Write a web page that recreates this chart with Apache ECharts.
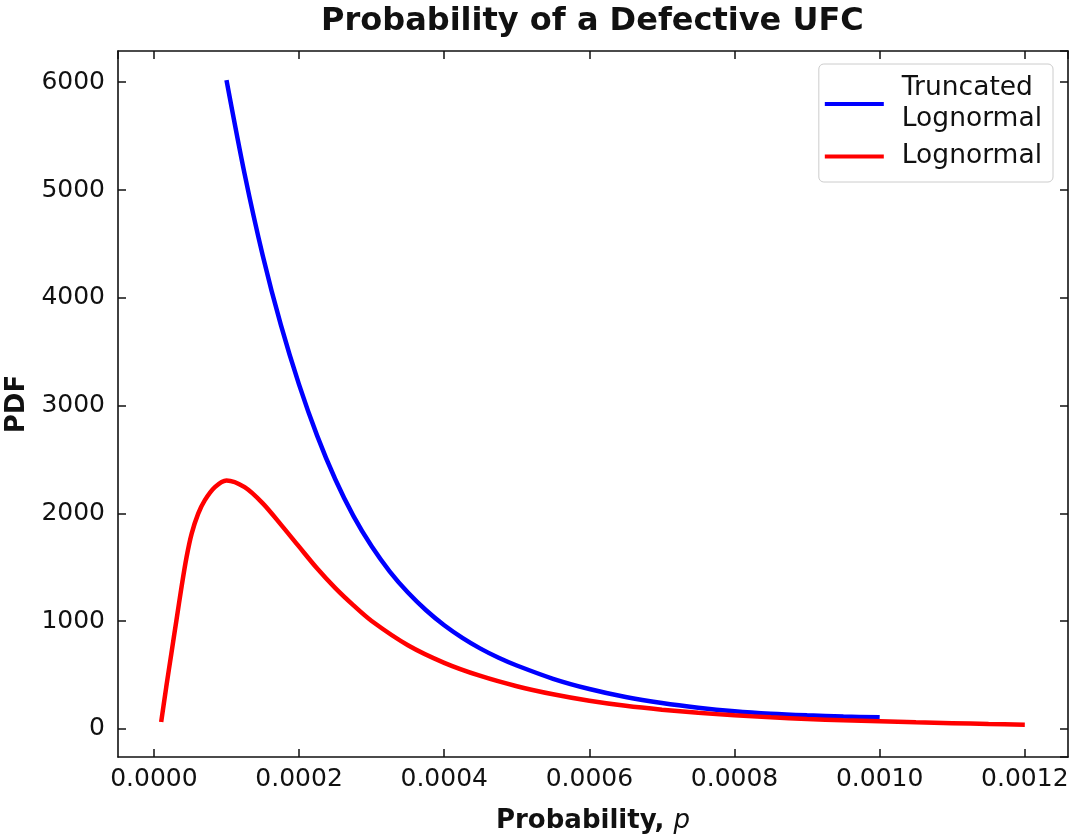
<!DOCTYPE html>
<html>
<head>
<meta charset="utf-8">
<script src="https://cdn.jsdelivr.net/npm/echarts@6/dist/echarts.min.js"></script>
<style>
  html, body { margin: 0; padding: 0; background: #ffffff; }
  #chart { width: 1070px; height: 838px; }
</style>
</head>
<body>
<div id="chart"></div>
<script>
// Lognormal PDF of the defect probability p
const lognormalP = [0.00001, 0.000017, 0.000024, 0.000031, 0.000038, 0.000045, 0.000052, 0.000061,
  0.00007, 0.000084, 0.0001, 0.000125, 0.00015, 0.000175, 0.0002, 0.000225, 0.00025, 0.000275,
  0.0003, 0.00035, 0.0004, 0.00045, 0.0005, 0.00055, 0.0006, 0.00065, 0.0007, 0.00075,
  0.0008, 0.00085, 0.0009, 0.00095, 0.001, 0.00105, 0.0011, 0.00115, 0.0012];
const lognormalPdf = [63, 388, 698, 1006, 1315, 1594, 1811, 1996,
  2120, 2243, 2305, 2242, 2092, 1895, 1690, 1487, 1305, 1145,
  1000, 775, 612, 490, 395, 320, 260, 213, 177, 148,
  125, 106, 91, 79, 69, 60, 52, 44, 38];

// Truncated lognormal PDF, defined on [0.0001, 0.001]
const truncatedP = [0.0001, 0.000125, 0.00015, 0.000175, 0.0002, 0.000225, 0.00025, 0.000275,
  0.0003, 0.000325, 0.00035, 0.000375, 0.0004, 0.000425, 0.00045, 0.000475, 0.0005,
  0.00055, 0.0006, 0.00065, 0.0007, 0.00075, 0.0008, 0.00085, 0.0009, 0.00095, 0.001];
const truncatedPdf = [6020, 5147, 4390, 3745, 3194, 2718, 2313, 1973,
  1693, 1459, 1264, 1100, 961, 844, 744, 659, 587,
  464, 369, 295, 239, 196, 163, 140, 125, 114, 106];

// Axis ranges
const xRange = [-0.0000495, 0.0012595];
const yRange = [-262, 6290];

const FONT = 'DejaVu Sans';
const INK = '#111111';

const pairs = (xs, ys) => xs.map((x, i) => [x, ys[i]]);

const tickStyle = { inside: true, length: 8, lineStyle: { color: INK, width: 1.5 } };
const lineStyle = { onZero: false, lineStyle: { color: INK, width: 1.6 } };

const chart = echarts.init(document.getElementById('chart'), null, { renderer: 'canvas' });

chart.setOption({
  animation: false,
  backgroundColor: '#ffffff',
  title: {
    text: 'Probability of a Defective UFC',
    left: 316,
    top: 1,
    textStyle: { fontFamily: FONT, fontSize: 32, fontWeight: 'bold', color: INK }
  },
  legend: {
    orient: 'vertical',
    right: 17,
    top: 64,
    padding: [9, 11, 10, 6],
    itemGap: 6,
    itemWidth: 59,
    itemHeight: 4,
    borderColor: '#cccccc',
    borderWidth: 1,
    borderRadius: 5,
    backgroundColor: 'rgba(255,255,255,0.8)',
    textStyle: { fontFamily: FONT, fontSize: 26.5, color: INK, lineHeight: 31, padding: [0, 0, 0, 13] },
    data: [
      { name: 'Truncated\nLognormal', icon: 'rect' },
      { name: 'Lognormal', icon: 'rect' }
    ]
  },
  grid: { left: 118, top: 51, right: 2, bottom: 81, outerBoundsMode: 'none' },
  xAxis: [
    {
      type: 'value',
      position: 'bottom',
      min: xRange[0],
      max: xRange[1],
      splitNumber: 6,
      name: '{b|Probability, }{i|p}',
      nameLocation: 'middle',
      nameGap: 51,
      nameTextStyle: {
        rich: {
          b: { fontFamily: FONT, fontSize: 26, fontWeight: 'bold', color: INK },
          i: { fontFamily: FONT, fontSize: 26, fontStyle: 'italic', color: INK }
        }
      },
      axisLine: lineStyle,
      axisTick: tickStyle,
      splitLine: { show: false },
      axisLabel: {
        showMinLabel: false,
        showMaxLabel: false,
        margin: 10,
        fontFamily: FONT,
        fontSize: 25,
        color: INK,
        formatter: v => v.toFixed(4)
      }
    },
    {
      type: 'value',
      position: 'top',
      min: xRange[0],
      max: xRange[1],
      splitNumber: 6,
      axisLine: lineStyle,
      axisTick: tickStyle,
      axisLabel: { show: false },
      splitLine: { show: false }
    }
  ],
  yAxis: [
    {
      type: 'value',
      position: 'left',
      min: yRange[0],
      max: yRange[1],
      splitNumber: 7,
      name: 'PDF',
      nameLocation: 'middle',
      nameGap: 84,
      nameTextStyle: { fontFamily: FONT, fontSize: 26, fontWeight: 'bold', color: INK },
      axisLine: lineStyle,
      axisTick: tickStyle,
      splitLine: { show: false },
      axisLabel: {
        showMinLabel: false,
        showMaxLabel: false,
        margin: 13,
        fontFamily: FONT,
        fontSize: 25,
        color: INK,
        formatter: v => String(v)
      }
    },
    {
      type: 'value',
      position: 'right',
      min: yRange[0],
      max: yRange[1],
      splitNumber: 7,
      axisLine: lineStyle,
      axisTick: tickStyle,
      axisLabel: { show: false },
      splitLine: { show: false }
    }
  ],
  series: [
    {
      name: 'Truncated\nLognormal',
      type: 'line',
      xAxisIndex: 0,
      yAxisIndex: 0,
      data: pairs(truncatedP, truncatedPdf),
      symbol: 'none',
      smooth: 0.3,
      color: '#0000ff',
      lineStyle: { color: '#0000ff', width: 4.5 },
      z: 3
    },
    {
      name: 'Lognormal',
      type: 'line',
      xAxisIndex: 0,
      yAxisIndex: 0,
      data: pairs(lognormalP, lognormalPdf),
      symbol: 'none',
      smooth: 0.3,
      color: '#ff0000',
      lineStyle: { color: '#ff0000', width: 4.5 },
      z: 4
    }
  ]
});
</script>
</body>
</html>
